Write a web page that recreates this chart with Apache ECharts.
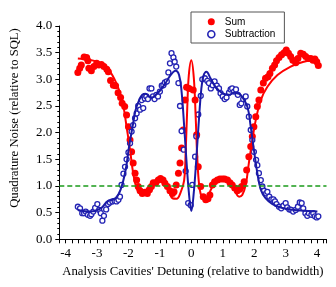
<!DOCTYPE html>
<html><head><meta charset="utf-8">
<script src="https://cdn.jsdelivr.net/npm/echarts@6/dist/echarts.min.js"></script>
<style>html,body{margin:0;padding:0;background:#fff}#c{width:336px;height:287px}</style>
</head><body><div id="c"></div>
<script>
// measured data: Sum (filled red), Subtraction (open blue)
var sumPoints = [[-3.61,3.13],[-3.55,3.21],[-3.50,3.27],[-3.41,3.42],[-3.33,3.41],[-3.29,3.35],[-3.26,3.21],[-3.18,3.16],[-3.10,3.24],[-3.01,3.30],[-2.94,3.27],[-2.86,3.28],[-2.78,3.24],[-2.69,3.19],[-2.64,3.14],[-2.57,2.98],[-2.48,2.89],[-2.41,2.88],[-2.33,2.75],[-2.25,2.66],[-2.20,2.55],[-2.12,2.49],[-2.06,2.33],[-2.00,2.11],[-1.95,1.86],[-1.90,1.64],[-1.85,1.43],[-1.79,1.24],[-1.74,1.11],[-1.69,0.99],[-1.63,0.91],[-1.56,0.86],[-1.48,0.88],[-1.40,0.86],[-1.33,0.93],[-1.27,0.99],[-1.21,1.06],[-1.13,1.06],[-1.05,1.11],[-0.98,1.14],[-0.90,1.11],[-0.84,1.05],[-0.76,0.99],[-0.68,0.91],[-0.60,0.86],[-0.55,0.89],[-0.48,1.02],[-0.41,1.24],[-0.36,1.43],[-0.31,1.71],[-0.26,2.05],[-0.20,2.61],[-0.15,2.85],[-0.07,2.83],[0.06,2.80],[0.12,2.61],[0.17,1.96],[0.22,1.36],[0.30,0.99],[0.38,0.80],[0.46,0.74],[0.53,0.76],[0.59,0.83],[0.67,1.02],[0.74,1.08],[0.83,1.11],[0.91,1.13],[0.99,1.13],[1.06,1.13],[1.15,1.11],[1.23,1.06],[1.30,1.02],[1.38,0.96],[1.46,0.91],[1.54,0.94],[1.60,0.99],[1.68,1.08],[1.76,1.30],[1.83,1.55],[1.89,1.74],[1.94,1.93],[1.99,2.11],[2.05,2.30],[2.10,2.49],[2.15,2.61],[2.21,2.80],[2.29,2.93],[2.36,3.02],[2.44,3.05],[2.50,3.11],[2.58,3.21],[2.65,3.27],[2.71,3.35],[2.79,3.41],[2.87,3.46],[2.95,3.50],[3.02,3.55],[3.09,3.49],[3.16,3.43],[3.23,3.36],[3.32,3.31],[3.39,3.39],[3.48,3.49],[3.56,3.47],[3.64,3.43],[3.72,3.39],[3.80,3.39],[3.87,3.36],[3.93,3.38],[3.99,3.33],[4.04,3.26]];

var subPoints = [[-3.61,0.61],[-3.54,0.58],[-3.47,0.49],[-3.41,0.49],[-3.36,0.52],[-3.29,0.46],[-3.22,0.44],[-3.18,0.47],[-3.12,0.52],[-3.06,0.59],[-2.99,0.66],[-2.93,0.55],[-2.88,0.49],[-2.83,0.35],[-2.78,0.44],[-2.71,0.56],[-2.65,0.66],[-2.59,0.69],[-2.51,0.71],[-2.44,0.72],[-2.38,0.71],[-2.32,0.74],[-2.27,0.80],[-2.22,1.02],[-2.16,1.23],[-2.11,1.36],[-2.06,1.50],[-2.00,1.63],[-1.95,1.80],[-1.90,2.02],[-1.85,2.14],[-1.79,2.27],[-1.74,2.36],[-1.69,2.50],[-1.63,2.43],[-1.58,2.61],[-1.53,2.46],[-1.48,2.64],[-1.43,2.68],[-1.38,2.63],[-1.33,2.83],[-1.27,2.83],[-1.22,2.68],[-1.17,2.63],[-1.11,2.71],[-1.06,2.68],[-1.00,2.77],[-0.94,2.88],[-0.89,2.89],[-0.84,2.94],[-0.78,2.96],[-0.73,3.13],[-0.68,3.30],[-0.63,3.49],[-0.57,3.41],[-0.53,3.33],[-0.48,3.24],[-0.41,2.93],[-0.36,2.50],[-0.31,2.03],[-0.24,1.68],[-0.18,1.28],[-0.10,0.68],[-0.02,0.64],[0.03,1.02],[0.12,1.55],[0.16,1.93],[0.22,2.34],[0.30,2.69],[0.35,3.00],[0.43,3.02],[0.51,2.97],[0.56,2.93],[0.62,2.83],[0.68,2.89],[0.74,2.96],[0.81,2.88],[0.88,2.83],[0.93,2.74],[1.00,2.68],[1.06,2.63],[1.12,2.66],[1.20,2.75],[1.25,2.81],[1.30,2.83],[1.36,2.77],[1.42,2.81],[1.48,2.71],[1.54,2.52],[1.59,2.55],[1.65,2.63],[1.73,2.68],[1.78,2.49],[1.83,2.30],[1.89,2.05],[1.94,1.86],[1.99,1.64],[2.06,1.49],[2.10,1.39],[2.15,1.24],[2.21,1.11],[2.26,0.99],[2.31,0.91],[2.38,0.86],[2.42,0.89],[2.48,0.80],[2.55,0.75],[2.61,0.75],[2.66,0.71],[2.71,0.66],[2.79,0.61],[2.86,0.58],[2.93,0.63],[3.00,0.68],[3.05,0.60],[3.12,0.56],[3.18,0.55],[3.24,0.52],[3.32,0.55],[3.39,0.61],[3.45,0.69],[3.51,0.68],[3.56,0.58],[3.63,0.49],[3.69,0.44],[3.74,0.49],[3.82,0.46],[3.88,0.49],[3.93,0.43],[3.99,0.41],[4.04,0.43]];

var sumFit = [[-3.61,3.39],[-2.99,3.33],[-2.67,3.21],[-2.46,3.02],[-2.30,2.80],[-2.16,2.49],[-2.06,2.11],[-1.95,1.68],[-1.85,1.24],[-1.74,0.96],[-1.61,0.86],[-1.51,0.89],[-1.35,0.99],[-1.19,1.08],[-1.03,1.11],[-0.87,1.05],[-0.71,0.89],[-0.60,0.77],[-0.47,0.76],[-0.34,0.88],[-0.23,1.10],[-0.18,1.64],[-0.13,2.46],[-0.08,3.08],[0.00,3.36],[0.08,3.02],[0.14,2.27],[0.19,1.52],[0.26,0.96],[0.35,0.77],[0.45,0.73],[0.62,0.93],[0.77,1.08],[0.99,1.13],[1.20,1.08],[1.36,0.94],[1.52,0.80],[1.62,0.83],[1.73,1.02],[1.83,1.43],[1.94,1.86],[2.05,2.24],[2.21,2.61],[2.42,2.86],[2.74,3.08],[3.16,3.24],[3.58,3.33],[4.01,3.38]];

var subFit = [[-3.61,0.55],[-3.20,0.52],[-2.88,0.58],[-2.67,0.71],[-2.41,0.77],[-2.25,0.93],[-2.09,1.30],[-1.98,1.74],[-1.87,2.11],[-1.77,2.43],[-1.66,2.61],[-1.56,2.71],[-1.45,2.73],[-1.35,2.68],[-1.24,2.66],[-1.13,2.71],[-0.98,2.80],[-0.82,2.93],[-0.66,3.08],[-0.50,3.16],[-0.39,3.08],[-0.31,2.77],[-0.23,2.14],[-0.16,1.52],[-0.08,0.89],[0.00,0.53],[0.08,0.89],[0.16,1.52],[0.23,2.14],[0.31,2.77],[0.38,3.05],[0.48,3.14],[0.61,3.02],[0.77,2.86],[0.98,2.74],[1.20,2.71],[1.36,2.75],[1.46,2.74],[1.57,2.71],[1.78,2.49],[1.89,2.11],[1.99,1.68],[2.10,1.24],[2.21,0.93],[2.36,0.77],[2.58,0.66],[2.95,0.58],[3.48,0.54],[4.01,0.52]];

var sqlLevel = 1.0;

var RED = '#ff0000', BLUE = '#1a1aa6', PTBLUE = '#2424b4', GREEN = '#1a9a1a';
var serif = 'Liberation Serif', sans = 'Liberation Sans';

var chart = echarts.init(document.getElementById('c'), null, {renderer:'canvas'});
chart.setOption({
  animation:false,
  backgroundColor:'#fff',
  grid:{left:59.3, top:26, right:9.5, bottom:47.7, containLabel:false},
  graphic:[{
    type:'text', x:15, y:118, rotation:Math.PI/2,
    style:{text:'Quadrature Noise (relative to SQL)', font:'12.7px "Liberation Serif"', fill:'#000',
      align:'center', verticalAlign:'middle'}
  }],
  legend:{
    left:191, top:12, orient:'vertical', itemGap:1,
    itemWidth:7, itemHeight:7,
    padding:[4,9,3,16],
    borderColor:'#555', borderWidth:1,
    textStyle:{fontFamily:sans, fontSize:10, color:'#000', padding:[0,0,0,5], lineHeight:11.5},
    data:[
      {name:'Sum', icon:'circle', itemStyle:{color:RED, borderWidth:0}},
      {name:'Subtraction', icon:'circle', itemStyle:{color:'#fff', borderColor:PTBLUE, borderWidth:1.6}}
    ]
  },
  xAxis:{
    type:'value', min:-4.2, max:4.3, interval:0.2,
    name:"Analysis Cavities' Detuning (relative to bandwidth)",
    nameLocation:'middle', nameGap:26,
    nameTextStyle:{fontFamily:serif, fontSize:12.7, color:'#000'},
    axisLine:{onZero:false, lineStyle:{color:'#000', width:1}},
    axisTick:{show:true, length:4, lineStyle:{color:'#000'}},
    axisLabel:{fontFamily:serif, fontSize:13, color:'#000', margin:8, interval:0,
      formatter:function(v){ return Math.abs(v-Math.round(v))<1e-6 ? String(Math.round(v)) : ''; }},
    splitLine:{show:false}
  },
  yAxis:{
    type:'value', min:0, max:4, interval:0.5,
    axisLine:{show:true, onZero:false, lineStyle:{color:'#000', width:1}},
    axisTick:{show:true, length:4, lineStyle:{color:'#000'}},
    minorTick:{show:true, splitNumber:5, length:2, lineStyle:{color:'#000'}},
    axisLabel:{fontFamily:serif, fontSize:13, color:'#000', margin:7,
      formatter:function(v){ return v.toFixed(1); }},
    splitLine:{show:false}
  },
  series:[
    {name:'Sum', type:'scatter', data:sumPoints, symbol:'circle', symbolSize:7,
      itemStyle:{color:RED, opacity:1}, z:3},
    {name:'Subtraction', type:'scatter', data:subPoints, symbol:'circle', symbolSize:5,
      itemStyle:{color:'#fff', borderColor:PTBLUE, borderWidth:1.3, opacity:1}, z:3},
    {name:'SumFit', type:'line', data:sumFit, smooth:0.4, showSymbol:false, symbol:'none',
      lineStyle:{color:RED, width:2}, z:4,
      markLine:{silent:true, symbol:'none', label:{show:false},
        lineStyle:{color:GREEN, type:[5,3], width:1.5}, data:[{yAxis:sqlLevel}]}},
    {name:'SubFit', type:'line', data:subFit, smooth:0.4, showSymbol:false, symbol:'none',
      lineStyle:{color:BLUE, width:2}, z:4}
  ]
});
</script></body></html>
